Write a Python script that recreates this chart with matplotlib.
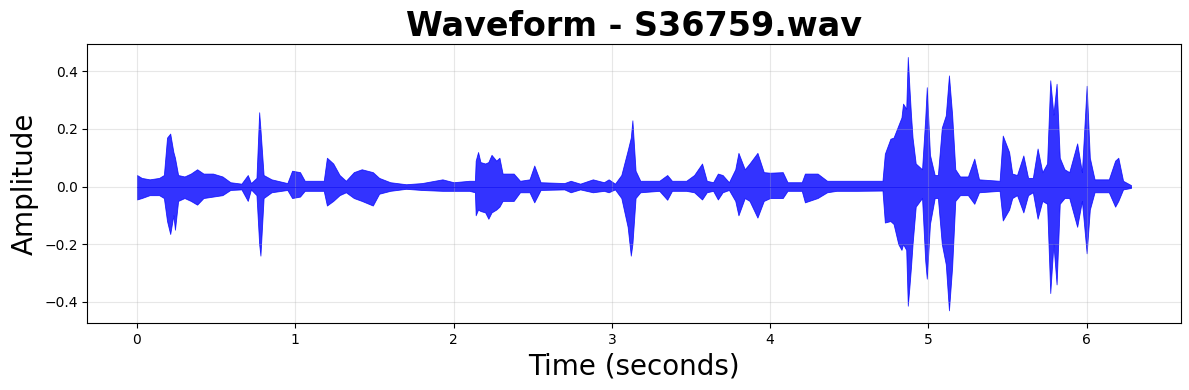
import matplotlib.pyplot as plt

# envelope of the waveform (time in s, peak amplitude)
times = [0.00, 0.03, 0.08, 0.14, 0.17, 0.19, 0.21, 0.23, 0.24, 0.26, 0.30, 0.34, 0.38, 0.42, 0.48,
         0.54, 0.59, 0.66, 0.70, 0.72, 0.755, 0.772, 0.78, 0.80, 0.85, 0.95, 0.98, 1.03, 1.06, 1.18,
         1.20, 1.24, 1.28, 1.32, 1.37, 1.42, 1.49, 1.53, 1.60, 1.70, 1.80, 1.93, 2.00, 2.10, 2.135,
         2.14, 2.155, 2.17, 2.20, 2.22, 2.24, 2.27, 2.29, 2.31, 2.38, 2.42, 2.48, 2.51, 2.55, 2.70,
         2.74, 2.80, 2.88, 2.95, 2.98, 3.02, 3.06, 3.10, 3.12, 3.13, 3.15, 3.18, 3.30, 3.35, 3.38,
         3.47, 3.52, 3.57, 3.60, 3.64, 3.67, 3.70, 3.74, 3.78, 3.80, 3.84, 3.87, 3.92, 3.96, 4.00,
         4.08, 4.11, 4.20, 4.22, 4.30, 4.36, 4.42, 4.55, 4.71, 4.725, 4.76, 4.78, 4.81, 4.83, 4.84,
         4.86, 4.87, 4.88, 4.89, 4.90, 4.92, 4.96, 4.98, 4.99, 5.01, 5.04, 5.06, 5.085, 5.11, 5.13,
         5.15, 5.17, 5.20, 5.25, 5.29, 5.32, 5.45, 5.47, 5.51, 5.53, 5.56, 5.60, 5.63, 5.66, 5.69,
         5.72, 5.75, 5.77, 5.79, 5.81, 5.83, 5.86, 5.89, 5.94, 5.97, 6.00, 6.02, 6.05, 6.14, 6.18,
         6.20, 6.23, 6.28]

upper = [0.040, 0.030, 0.025, 0.030, 0.040, 0.170, 0.184, 0.120, 0.100, 0.040, 0.035, 0.045, 0.060, 0.045, 0.045,
         0.035, 0.015, 0.010, 0.040, 0.012, 0.030, 0.258, 0.200, 0.040, 0.025, 0.012, 0.055, 0.050, 0.020, 0.020,
         0.100, 0.080, 0.040, 0.020, 0.050, 0.060, 0.050, 0.030, 0.015, 0.008, 0.012, 0.025, 0.015, 0.020, 0.020,
         0.090, 0.120, 0.085, 0.080, 0.085, 0.110, 0.090, 0.100, 0.045, 0.045, 0.020, 0.025, 0.073, 0.015, 0.012,
         0.020, 0.010, 0.025, 0.015, 0.025, 0.010, 0.040, 0.125, 0.170, 0.230, 0.055, 0.020, 0.020, 0.040, 0.020,
         0.020, 0.040, 0.080, 0.020, 0.015, 0.045, 0.040, 0.015, 0.060, 0.117, 0.060, 0.080, 0.117, 0.050, 0.048,
         0.050, 0.015, 0.015, 0.045, 0.045, 0.020, 0.020, 0.020, 0.020, 0.114, 0.166, 0.170, 0.212, 0.240, 0.288,
         0.270, 0.450, 0.345, 0.250, 0.170, 0.080, 0.060, 0.236, 0.345, 0.110, 0.040, 0.040, 0.205, 0.247, 0.386,
         0.250, 0.060, 0.035, 0.035, 0.097, 0.025, 0.020, 0.177, 0.120, 0.045, 0.040, 0.108, 0.030, 0.030, 0.132,
         0.050, 0.080, 0.369, 0.250, 0.357, 0.100, 0.060, 0.050, 0.150, 0.050, 0.350, 0.100, 0.025, 0.025, 0.090,
         0.100, 0.020, 0.005]

lower = [-0.045, -0.040, -0.030, -0.030, -0.040, -0.120, -0.165, -0.100, -0.150, -0.050, -0.040, -0.050, -0.063, -0.040, -0.035,
         -0.030, -0.012, -0.010, -0.050, -0.010, -0.030, -0.200, -0.240, -0.040, -0.020, -0.012, -0.040, -0.035, -0.015, -0.015,
         -0.066, -0.050, -0.030, -0.020, -0.040, -0.050, -0.066, -0.025, -0.015, -0.008, -0.012, -0.015, -0.015, -0.015, -0.020,
         -0.100, -0.080, -0.085, -0.090, -0.112, -0.090, -0.080, -0.070, -0.050, -0.050, -0.020, -0.020, -0.055, -0.012, -0.010,
         -0.020, -0.010, -0.020, -0.015, -0.020, -0.010, -0.040, -0.140, -0.240, -0.200, -0.040, -0.020, -0.015, -0.046, -0.015,
         -0.015, -0.020, -0.045, -0.020, -0.015, -0.045, -0.020, -0.012, -0.050, -0.100, -0.040, -0.050, -0.108, -0.050, -0.040,
         -0.040, -0.015, -0.015, -0.055, -0.040, -0.020, -0.015, -0.015, -0.014, -0.125, -0.120, -0.130, -0.200, -0.220, -0.200,
         -0.220, -0.414, -0.350, -0.280, -0.200, -0.070, -0.040, -0.257, -0.320, -0.130, -0.040, -0.040, -0.200, -0.270, -0.430,
         -0.280, -0.050, -0.030, -0.030, -0.060, -0.020, -0.015, -0.118, -0.080, -0.040, -0.030, -0.090, -0.030, -0.020, -0.112,
         -0.050, -0.060, -0.370, -0.200, -0.340, -0.060, -0.040, -0.040, -0.140, -0.050, -0.232, -0.080, -0.020, -0.020, -0.070,
         -0.050, -0.010, -0.005]

fig, ax = plt.subplots(figsize=(11.89, 3.9), dpi=100)
fig.subplots_adjust(left=0.0734, right=0.993, top=0.8864, bottom=0.1718)

ax.fill_between(times, lower, upper, color='blue', alpha=0.8, linewidth=0.6)
ax.plot(times, [0] * len(times), color='blue', alpha=0.8, linewidth=0.6)

ax.set_title('Waveform - S36759.wav', fontsize=24, fontweight='bold')
ax.set_xlabel('Time (seconds)', fontsize=20)
ax.set_ylabel('Amplitude', fontsize=20)
ax.grid(True, alpha=0.3)

plt.savefig('out.png')
